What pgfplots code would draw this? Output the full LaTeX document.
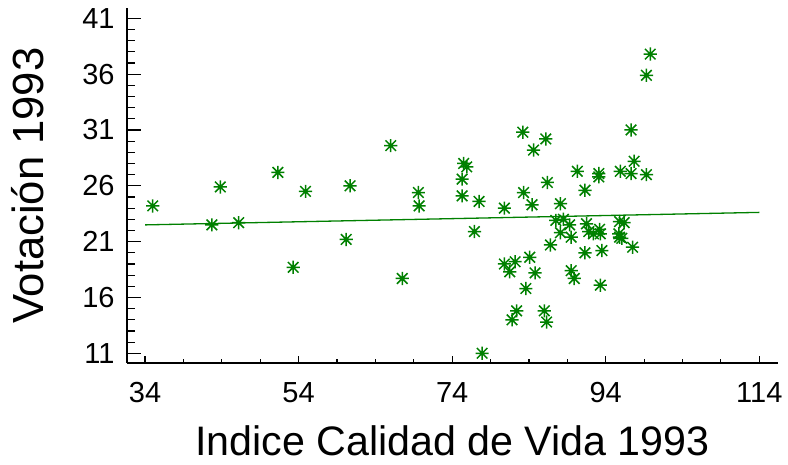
\documentclass[border=0pt]{standalone}
\usepackage{pgfplots}
\pgfplotsset{compat=1.18}
\usepackage{fontspec}
\setmainfont{Liberation Sans}
\definecolor{sgreen}{RGB}{0,128,0}
\pgfdeclareplotmark{ast8}{%
  \pgfpathmoveto{\pgfqpoint{0pt}{\pgfplotmarksize}}%
  \pgfpathlineto{\pgfqpoint{0pt}{-\pgfplotmarksize}}%
  \pgfpathmoveto{\pgfqpoint{\pgfplotmarksize}{0pt}}%
  \pgfpathlineto{\pgfqpoint{-\pgfplotmarksize}{0pt}}%
  \pgfpathmoveto{\pgfqpoint{0.8\pgfplotmarksize}{0.8\pgfplotmarksize}}%
  \pgfpathlineto{\pgfqpoint{-0.8\pgfplotmarksize}{-0.8\pgfplotmarksize}}%
  \pgfpathmoveto{\pgfqpoint{0.8\pgfplotmarksize}{-0.8\pgfplotmarksize}}%
  \pgfpathlineto{\pgfqpoint{-0.8\pgfplotmarksize}{0.8\pgfplotmarksize}}%
  \pgfusepathqstroke}
\pgfplotstableread{
x y
35.0 24.2
42.7 22.5
43.8 25.9
46.2 22.7
51.3 27.2
54.9 25.5
53.3 18.7
60.7 26.0
60.2 21.2
66.0 29.6
67.5 17.7
69.6 25.4
69.7 24.2
75.5 28.0
75.9 27.7
75.3 26.6
75.3 25.1
77.5 24.6
76.9 21.9
77.9 11.0
80.8 24.0
83.2 30.8
86.2 30.2
84.6 29.2
83.3 25.4
84.4 24.3
86.4 26.3
88.1 24.4
90.3 27.3
91.3 25.6
93.1 27.1
93.1 26.8
95.9 27.3
97.3 27.1
97.7 28.2
99.3 27.0
97.3 31.0
99.3 35.9
99.8 37.8
87.5 22.9
88.5 23.0
89.3 22.5
88.1 21.8
89.5 21.4
91.5 22.6
91.8 21.9
92.4 21.7
93.2 22.1
93.3 21.7
95.8 22.8
96.4 22.7
95.7 21.7
95.8 21.4
96.1 21.3
86.8 20.7
91.3 20.0
93.5 20.2
97.5 20.5
80.8 19.0
81.5 18.3
82.2 19.2
84.1 19.6
84.8 18.2
83.6 16.8
89.5 18.4
89.9 17.7
93.3 17.1
82.4 14.8
81.8 14.0
86.0 14.8
86.3 13.8
}\pts
\pgfplotstableread{
x y
34 22.5
114 23.62
}\fitline
\pgfplotsset{
  common/.style={
    scale only axis, width=325.35pt, height=177.35pt,
    xmin=31.65, xmax=116.4, ymin=10.13, ymax=41.9,
    /pgf/number format/assume math mode=true,
    tick align=inside,
    axis line style={-, line width=0.6pt, black},
    tick style={line width=0.6pt, black},
    tick label style={font=\fontsize{14.5}{17}\selectfont},
  }
}
\begin{document}
\begin{tikzpicture}
\begin{axis}[common, name=ax,
  axis x line*=bottom, axis y line=none,
  xtick={34,54,74,94,114}, minor x tick num=3,
  major tick length=3.5pt, minor tick length=1.75pt,
  xticklabel style={anchor=north, inner sep=0pt, yshift=-9.5pt},
  xlabel={Indice Calidad de Vida 1993},
  every axis x label/.style={at={(axis description cs:0.5,-0.1748)}, anchor=north, inner sep=0pt, font=\fontsize{20.6}{24}\selectfont},
  clip=false]
\addplot[sgreen, line width=0.65pt, no marks] table[x=x,y=y] {\fitline};
\addplot[only marks, mark=ast8, mark size=3.3pt, mark options={sgreen, line width=0.75pt}] table[x=x,y=y] {\pts};
\end{axis}
\begin{axis}[common,
  axis x line=none, axis y line*=left,
  ytick={11,16,21,26,31,36,41}, minor y tick num=4,
  major tick length=7pt, minor tick length=4pt,
  yticklabel style={anchor=east, inner sep=0pt, xshift=-6pt},
  ylabel={Votación 1993},
  every axis y label/.style={at={(axis description cs:-0.1268,0.5)}, rotate=90, anchor=south, inner sep=0pt, font=\fontsize{21.8}{26}\selectfont}]
\end{axis}
\pgfresetboundingbox
\path (ax.south west) ++(-63.5pt,-51pt) rectangle ++(394pt,232.5pt);
\end{tikzpicture}
\end{document}
